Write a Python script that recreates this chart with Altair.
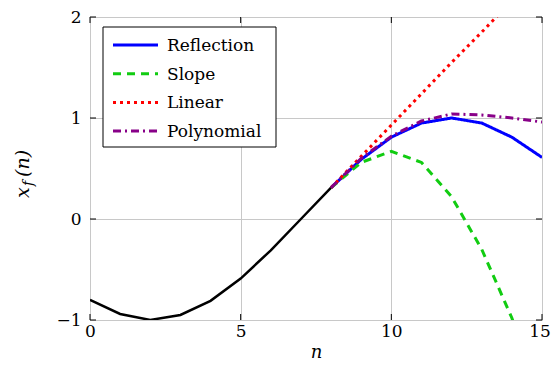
import altair as alt
import pandas as pd

# ---- data ----
n_base = [0, 1, 2, 3, 4, 5, 6, 7, 8]
x_base = [-0.80, -0.94, -1.00, -0.95, -0.81, -0.59, -0.31, 0.00, 0.31]

n_ext = [8, 9, 10, 11, 12, 13, 14, 15]
reflection = [0.31, 0.59, 0.81, 0.95, 1.00, 0.95, 0.81, 0.61]
slope = [0.31, 0.56, 0.67, 0.56, 0.22, -0.30, -0.98, -1.85]
linear = [0.31, 0.62, 0.93, 1.24, 1.55, 1.85, 2.16, 2.47]
polynomial = [0.31, 0.60, 0.82, 0.97, 1.04, 1.03, 1.00, 0.96]

series = ["Reflection", "Slope", "Linear", "Polynomial"]
colors = ["#0000ff", "#11cc11", "#ff0000", "#880088"]
dashes = [[1, 0], [8, 6], [3, 4], [8, 4, 2, 4]]

x_ticks = [0, 5, 10, 15]
y_ticks = [-1, 0, 1, 2]

W, H = 452, 303
FONT = "DejaVu Serif"

base_df = pd.DataFrame({"n": n_base, "v": x_base})
rows = []
for name, vals in zip(series, [reflection, slope, linear, polynomial]):
    for n, v in zip(n_ext, vals):
        rows.append({"n": n, "v": v, "method": name})
ext_df = pd.DataFrame(rows)
leg_df = pd.DataFrame({"method": series, "idx": list(range(len(series)))})

xs = alt.Scale(domain=[0, 15], nice=False, zero=False)
ys = alt.Scale(domain=[-1, 2], nice=False, zero=False)
cscale = alt.Scale(domain=series, range=colors)
dscale = alt.Scale(domain=series, range=dashes)

xenc = alt.X("n:Q", scale=xs,
             axis=alt.Axis(values=x_ticks, title="n", titleFont=FONT, titleFontStyle="italic",
                           titleFontSize=18, titleFontWeight="normal", titlePadding=4,
                           labelFont=FONT, labelFontSize=17, labelPadding=3, labelFlush=False,
                           labelOffset={"condition": {"test": "datum.value == 15", "value": -2.5},
                                        "value": 0},
                           domain=False, ticks=False, grid=True, gridColor="#c8c8c8",
                           labelColor="black", titleColor="black", format=".0f"))
yenc = alt.Y("v:Q", scale=ys,
             axis=alt.Axis(values=y_ticks, title=None, format=".0f", labelFlush=False,
                           labelFont=FONT, labelFontSize=17, labelPadding=9,
                           domain=False, ticks=False, grid=True, gridColor="#c8c8c8",
                           labelColor="black"))

black = alt.Chart(base_df).mark_line(color="black", strokeWidth=2.5, clip=True).encode(x=xenc, y=yenc)

ext = alt.Chart(ext_df).mark_line(strokeWidth=3, clip=True).encode(
    x=alt.X("n:Q", scale=xs),
    y=alt.Y("v:Q", scale=ys),
    color=alt.Color("method:N", scale=cscale, legend=None),
    strokeDash=alt.StrokeDash("method:N", scale=dscale, legend=None),
    order=alt.Order("n:Q"),
)

xt = pd.DataFrame({"t": x_ticks})
yt = pd.DataFrame({"t": y_ticks})
tick_b = alt.Chart(xt).mark_rule(color="black", strokeWidth=1).encode(
    x=alt.X("t:Q", scale=xs), y=alt.value(H), y2=alt.value(H - 6))
tick_t = alt.Chart(xt).mark_rule(color="black", strokeWidth=1).encode(
    x=alt.X("t:Q", scale=xs), y=alt.value(0), y2=alt.value(6))
tick_l = alt.Chart(yt).mark_rule(color="black", strokeWidth=1).encode(
    y=alt.Y("t:Q", scale=ys), x=alt.value(0), x2=alt.value(6))
tick_r = alt.Chart(yt).mark_rule(color="black", strokeWidth=1).encode(
    y=alt.Y("t:Q", scale=ys), x=alt.value(W - 6), x2=alt.value(W))

# ---- legend (drawn manually, tikz style) ----
leg_box = alt.Chart(pd.DataFrame({"a": [0]})).mark_rect(
    fill="white", stroke="black", strokeWidth=1).encode(
    x=alt.value(13), x2=alt.value(186), y=alt.value(10), y2=alt.value(130))
leg_base = alt.Chart(leg_df).transform_calculate(ypix="28 + datum.idx * 28.7")
leg_lines = leg_base.mark_rule(strokeWidth=3).encode(
    x=alt.value(23), x2=alt.value(68),
    y=alt.Y("ypix:Q", scale=None),
    color=alt.Color("method:N", scale=cscale, legend=None),
    strokeDash=alt.StrokeDash("method:N", scale=dscale, legend=None),
)
leg_text = leg_base.mark_text(font=FONT, fontSize=17, align="left", baseline="middle",
                              color="black", dy=1).encode(
    x=alt.value(77), y=alt.Y("ypix:Q", scale=None), text="method:N")

# ---- y-axis title x_f(n) built from pieces ----
t_x = alt.Chart(pd.DataFrame({"s": ["x"]})).mark_text(
    font=FONT, fontStyle="italic", fontSize=19, angle=270, align="left", baseline="alphabetic",
    color="black").encode(text="s:N", x=alt.value(-61), y=alt.value(181))
t_f = alt.Chart(pd.DataFrame({"s": ["f"]})).mark_text(
    font=FONT, fontStyle="italic", fontSize=14, angle=270, align="left", baseline="alphabetic",
    color="black").encode(text="s:N", x=alt.value(-57), y=alt.value(169))
t_n = alt.Chart(pd.DataFrame({"s": ["(n)"]})).mark_text(
    font=FONT, fontStyle="italic", fontSize=19, angle=270, align="left", baseline="alphabetic",
    color="black").encode(text="s:N", x=alt.value(-61), y=alt.value(160))

chart = alt.layer(black, ext, tick_b, tick_t, tick_l, tick_r,
                  leg_box, leg_lines, leg_text, t_x, t_f, t_n).properties(
    width=W, height=H,
    autosize=alt.AutoSizeParams(type="none"),
    padding={"left": 82, "top": 9, "right": 9, "bottom": 50},
).configure_view(stroke="black", strokeWidth=1.2).configure(background="white")

chart.save("out.html", embed_options={"renderer": "svg", "actions": False})
